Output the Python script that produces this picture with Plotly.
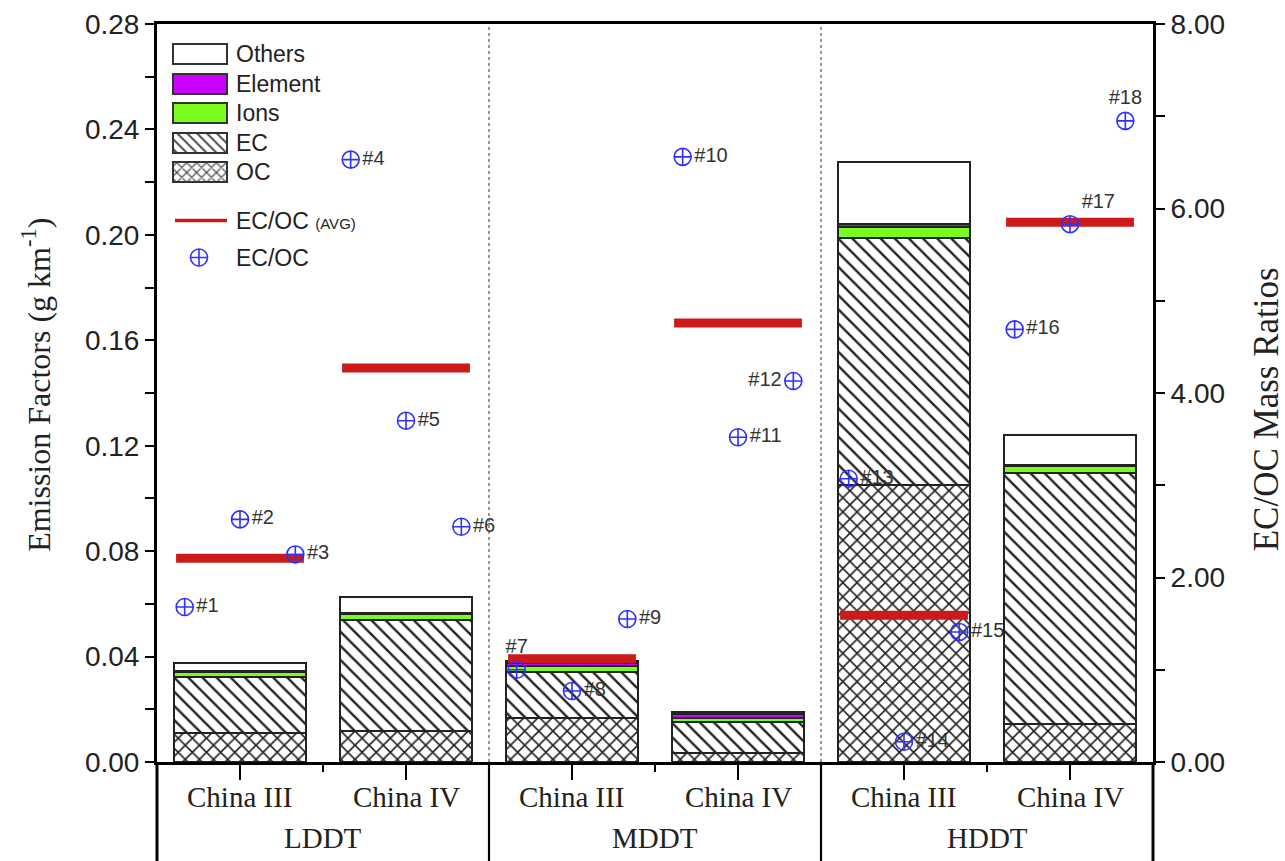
import plotly.graph_objects as go

# ---------------- data ----------------
cat_pos = [0.5, 1.5, 2.5, 3.5, 4.5, 5.5]
cat_labels = ["China III", "China IV", "China III", "China IV", "China III", "China IV"]
groups = ["LDDT", "MDDT", "HDDT"]
group_pos = [1, 3, 5]

OC = [0.0109, 0.0116, 0.0168, 0.0033, 0.1051, 0.0144]
EC = [0.0212, 0.0423, 0.0172, 0.0120, 0.0936, 0.0951]
Ions = [0.0020, 0.0022, 0.0024, 0.0013, 0.0044, 0.0028]
Element = [0.0003, 0.0005, 0.0013, 0.0015, 0.0011, 0.0003]
Others = [0.0033, 0.0059, 0.0007, 0.0008, 0.0235, 0.0115]

ratio_avg = [2.21, 4.27, 1.12, 4.76, 1.59, 5.85]
ratio_vals = [1.68, 2.63, 2.25, 6.53, 3.70, 2.55,
              1.00, 0.77, 1.55, 6.56, 3.52, 4.13,
              3.07, 0.22, 1.41, 4.69, 5.83, 6.95]
ratio_labels = ["#%d" % (i + 1) for i in range(18)]
label_pos = ["middle right"] * 18
label_pos[6] = "top center"    # #7
label_pos[11] = "middle left"  # #12
label_pos[16] = "top right"    # #17
label_pos[17] = "top center"   # #18

# ---------------- styling ----------------
SERIF = "Liberation Serif"
SANS = "Liberation Sans"
EDGE = "#222222"
C_ELEM = "#cc00ff"
C_IONS = "#7cfc1c"
C_RED = "#cc1a1a"
C_BLUE = "#3030ff"
BAR_W = 0.8
AVG_HALF = 0.385

fig = go.Figure()

def add_bar(name, vals, color, pattern=None, solidity=0.25):
    marker = dict(color=color, line=dict(color=EDGE, width=2))
    if pattern:
        marker["pattern"] = dict(shape=pattern, fgcolor="#222222", bgcolor="white",
                                 size=10, solidity=solidity, fillmode="replace")
    fig.add_trace(go.Bar(x=cat_pos, y=vals, width=BAR_W, name=name, marker=marker,
                         showlegend=False, hoverinfo="skip"))

add_bar("OC", OC, "white", "x", 0.3)
add_bar("EC", EC, "white", "\\", 0.24)
add_bar("Ions", Ions, C_IONS)
add_bar("Element", Element, C_ELEM)
add_bar("Others", Others, "white")

# average EC/OC lines
ax, ay = [], []
for c, v in zip(cat_pos, ratio_avg):
    ax += [c - AVG_HALF, c + AVG_HALF, None]
    ay += [v, v, None]
fig.add_trace(go.Scatter(x=ax, y=ay, yaxis="y2", mode="lines",
                         line=dict(color=C_RED, width=9), showlegend=False,
                         hoverinfo="skip"))

# individual EC/OC ratios
px_ = []
for c in cat_pos:
    px_ += [c - 1 / 3, c, c + 1 / 3]
fig.add_trace(go.Scatter(x=px_, y=ratio_vals, yaxis="y2", mode="markers+text",
                         text=ratio_labels, textposition=label_pos,
                         textfont=dict(family=SANS, size=20, color="#333333"),
                         marker=dict(symbol="circle-cross-open", size=17, color=C_BLUE,
                                     line=dict(width=1.6, color=C_BLUE)),
                         cliponaxis=False, showlegend=False, hoverinfo="skip"))

# ---------------- manual legend (pixel-like overlay axes) ----------------
leg_gaps = [580, 9.5, 9.5, 9.5, 9.5]
leg_specs = [("OC", "white", "x", 2, 0.3), ("EC", "white", "\\", 2, 0.24),
             ("Ions", C_IONS, None, 2.5, 0), ("Element", C_ELEM, None, 2.5, 0),
             ("Others", "white", None, 2.5, 0)]
for gap, (nm, col, pat, lw, sol) in zip(leg_gaps, leg_specs):
    fig.add_trace(go.Bar(x=[43], y=[gap], width=54, xaxis="x3", yaxis="y3",
                         marker=dict(color="rgba(0,0,0,0)", line=dict(width=0)),
                         showlegend=False, hoverinfo="skip"))
    mk = dict(color=col, line=dict(color="#333333", width=lw))
    if pat:
        mk["pattern"] = dict(shape=pat, fgcolor="#333333", bgcolor="white",
                             size=7, solidity=sol, fillmode="replace")
    fig.add_trace(go.Bar(x=[43], y=[20], width=54, xaxis="x3", yaxis="y3",
                         marker=mk, showlegend=False, hoverinfo="skip"))
fig.add_trace(go.Scatter(x=[18, 70], y=[541.4, 541.4], xaxis="x3", yaxis="y3",
                         mode="lines", line=dict(color=C_RED, width=3.5),
                         showlegend=False, hoverinfo="skip"))
fig.add_trace(go.Scatter(x=[42], y=[504.5], xaxis="x3", yaxis="y3", mode="markers",
                         marker=dict(symbol="circle-cross-open", size=17, color=C_BLUE,
                                     line=dict(width=1.6, color=C_BLUE)),
                         showlegend=False, hoverinfo="skip"))

annotations = []
leg_text = [("Others", 708), ("Element", 678.5), ("Ions", 649), ("EC", 619.5), ("OC", 590),
            ("EC/OC <span style='font-size:15px'>(AVG)</span>", 541.4), ("EC/OC", 504.5)]
for t, yv in leg_text:
    annotations.append(dict(x=77, y=yv, xref="x3", yref="y3", text=t, showarrow=False,
                            xanchor="left", yanchor="middle",
                            font=dict(family=SANS, size=23, color="#222222")))

for lab, cp in zip(cat_labels, cat_pos):
    annotations.append(dict(x=cp, y=-0.0474, xref="x", yref="paper", text=lab,
                            showarrow=False, xanchor="center", yanchor="middle",
                            font=dict(family=SERIF, size=29, color="#222222")))
for g, gp in zip(groups, group_pos):
    annotations.append(dict(x=gp, y=-0.103, xref="x", yref="paper", text=g,
                            showarrow=False, xanchor="center", yanchor="middle",
                            font=dict(family=SERIF, size=29, color="#222222")))

annotations.append(dict(x=-0.1215, y=0.511, xref="paper", yref="paper",
                        text="Emission Factors (g km<sup>-1</sup>)", textangle=-90,
                        showarrow=False, xanchor="center", yanchor="middle",
                        font=dict(family=SERIF, size=32, color="#222222")))
annotations.append(dict(x=1.1135, y=0.478, xref="paper", yref="paper",
                        text="EC/OC Mass Ratios", textangle=-90,
                        showarrow=False, xanchor="center", yanchor="middle",
                        font=dict(family=SERIF, size=35, color="#222222")))

shapes = []
for xs in [2 / 6, 4 / 6]:
    shapes.append(dict(type="line", xref="paper", yref="paper", x0=xs, x1=xs, y0=0, y1=1,
                       line=dict(color="#555555", width=1.2, dash="dot"), layer="above"))
    shapes.append(dict(type="line", xref="paper", yref="paper", x0=xs, x1=xs, y0=-0.15, y1=0,
                       line=dict(color="black", width=2.2)))
for xs in [0, 1]:
    shapes.append(dict(type="line", xref="paper", yref="paper", x0=xs, x1=xs, y0=-0.15, y1=0,
                       line=dict(color="black", width=3)))

tick_font = dict(family=SANS, size=28, color="#222222")

fig.update_layout(
    width=1285, height=861,
    margin=dict(l=157, r=132, t=24, b=99, autoexpand=False),
    paper_bgcolor="white", plot_bgcolor="white",
    barmode="stack", bargap=0,
    showlegend=False,
    xaxis=dict(range=[0, 6], tickmode="array", tickvals=cat_pos, ticktext=cat_labels,
               showticklabels=False,
               showline=True, linecolor="black", linewidth=2.5, mirror=True,
               ticks="outside", ticklen=15, tickwidth=2, tickcolor="black",
               minor=dict(dtick=1, tick0=0, ticks="outside", ticklen=7, tickwidth=2,
                          tickcolor="black"),
               showgrid=False, zeroline=False, fixedrange=True),
    yaxis=dict(range=[0, 0.28], dtick=0.04, tick0=0, tickformat=".2f",
               showline=True, linecolor="black", linewidth=3,
               ticks="outside", ticklen=9, tickwidth=2, tickcolor="black",
               minor=dict(dtick=0.02, ticks="outside", ticklen=9, tickwidth=2,
                          tickcolor="black"),
               tickfont=tick_font, showgrid=False, zeroline=False, fixedrange=True),
    yaxis2=dict(range=[0, 8], dtick=2, tick0=0, tickformat=".2f", overlaying="y",
                side="right", showline=True, linecolor="black", linewidth=3,
                ticks="outside", ticklen=9, tickwidth=2, tickcolor="black",
                minor=dict(dtick=1, ticks="outside", ticklen=9, tickwidth=2,
                           tickcolor="black"),
                tickfont=tick_font, showgrid=False, zeroline=False, fixedrange=True),
    xaxis3=dict(range=[0, 996], overlaying="x", visible=False, fixedrange=True),
    yaxis3=dict(range=[0, 738], overlaying="y", anchor="x3", visible=False, fixedrange=True),
    annotations=annotations, shapes=shapes,
)

fig.write_html("out.html")
